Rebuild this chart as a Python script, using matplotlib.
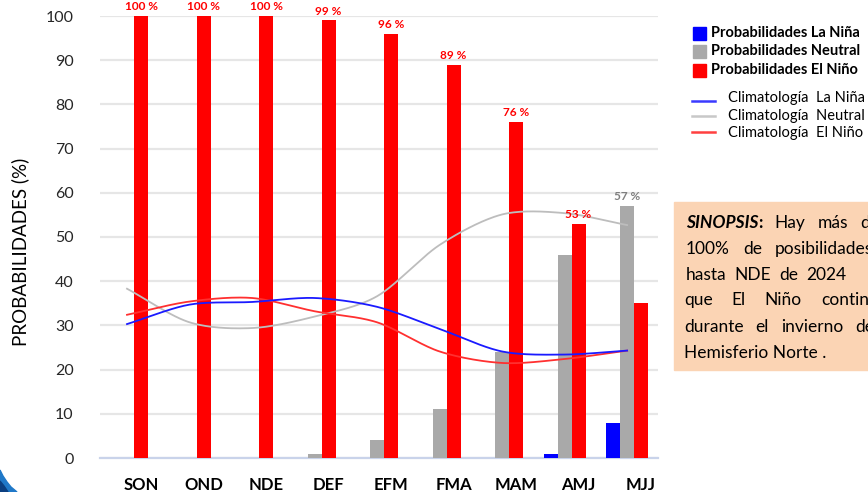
import numpy as np
import matplotlib
matplotlib.use("Agg")
import matplotlib.pyplot as plt
from matplotlib.patches import Rectangle, Polygon
from matplotlib.lines import Line2D
from matplotlib.transforms import Affine2D

plt.rcParams['font.family'] = ['Lato', 'DejaVu Sans']

# ---- data ----
seasons = ["SON", "OND", "NDE", "DEF", "EFM", "FMA", "MAM", "AMJ", "MJJ"]
prob_nina = [0, 0, 0, 0, 0, 0, 0, 1, 8]
prob_neutral = [0, 0, 0, 1, 4, 11, 24, 46, 57]
prob_nino = [100, 100, 100, 99, 96, 89, 76, 53, 35]
clim_nina = [30.3, 34.7, 35.3, 36.2, 34.2, 29.2, 24.1, 23.4, 24.3]
clim_neutral = [38.3, 30.7, 29.4, 32.0, 36.6, 48.2, 55.1, 55.4, 52.7]
clim_nino = [32.4, 35.4, 36.2, 33.2, 30.7, 24.1, 21.5, 22.4, 24.3]
yticks = list(range(0, 101, 10))
legend_prob = ["Probabilidades La Niña", "Probabilidades Neutral", "Probabilidades El Niño"]
legend_clim = ["Climatología  La Niña", "Climatología  Neutral", "Climatología  El Niño"]
sinopsis_lines = [
    ["SINOPSIS:", "Hay", "más", "de"],
    ["100%", "de", "posibilidades"],
    ["hasta", "NDE", "de", "2024"],
    ["que", "El", "Niño", "continúe"],
    ["durante", "el", "invierno", "del"],
    ["Hemisferio Norte ."],
]
# layout of the justified text: start x, word gap (pixels), line y
sinopsis_x0 = [686, 686, 686, 684, 684, 684]
sinopsis_gap = [12, 13, 8, 19, 12, 0]
sinopsis_y = [223, 249, 275, 300, 327, 353]

W, H = 868, 492
fig = plt.figure(figsize=(W / 100, H / 100), dpi=100)
fig.patch.set_facecolor("white")

def fx(x):
    return x / W

def fy(y):
    return 1 - y / H

ax = fig.add_axes([fx(100), fy(458), fx(658) - fx(100), fy(16) - fy(458)])

x = np.arange(len(seasons))
w = 0.224
RED, GRAY, BLUE = "#ff0000", "#a9a9a9", "#0000ff"

ax.bar(x - 2 * w, prob_nina, w, color=BLUE, zorder=3)
ax.bar(x - w, prob_neutral, w, color=GRAY, zorder=3)
ax.bar(x, prob_nino, w, color=RED, zorder=3)

# data labels
for xi, v in zip(x[:-1], prob_nino[:-1]):
    ax.text(xi, v + 1.3, f"{v} %", color=RED, fontsize=8.5, fontweight="bold",
            ha="center", va="baseline", zorder=5, clip_on=False)
ax.text(x[-1] - w, prob_neutral[-1] + 1.3, f"{prob_neutral[-1]} %", color="#7f7f7f",
        fontsize=8.5, fontweight="bold", ha="center", va="baseline", zorder=5, clip_on=False)

# smooth climatology curves (cubic Hermite through the data points)
def smooth(xs, ys, n=30):
    P = np.column_stack([np.asarray(xs, float), np.asarray(ys, float)])
    P = np.vstack([2 * P[0] - P[1], P, 2 * P[-1] - P[-2]])
    out = []
    for i in range(1, len(P) - 2):
        p0, p1, p2, p3 = P[i - 1], P[i], P[i + 1], P[i + 2]
        t = np.linspace(0, 1, n, endpoint=False)[:, None]
        m1 = (p2 - p0) / 2 * 0.9
        m2 = (p3 - p1) / 2 * 0.9
        h00 = 2 * t**3 - 3 * t**2 + 1
        h10 = t**3 - 2 * t**2 + t
        h01 = -2 * t**3 + 3 * t**2
        h11 = t**3 - t**2
        out.append(h00 * p1 + h10 * m1 + h01 * p2 + h11 * m2)
    out.append(P[-2][None, :])
    c = np.vstack(out)
    return c[:, 0], c[:, 1]

lx = x - w
for vals, col in [(clim_neutral, "#bdbdbd"), (clim_nino, "#ff3030"), (clim_nina, "#1a1aff")]:
    cx, cy = smooth(lx, vals)
    ax.plot(cx, cy, color=col, lw=1.3, zorder=4)

ax.set_xlim(-0.656, 8.27)
ax.set_ylim(0, 100)
ax.set_yticks(yticks)
ax.set_yticklabels([str(t) for t in yticks], fontsize=11.5, color="#262626")
ax.set_xticks(x)
ax.set_xticklabels(seasons, fontsize=12, fontweight="bold", color="black")
ax.tick_params(axis="y", length=0, pad=19)
ax.tick_params(axis="x", length=0, pad=14)
ax.yaxis.grid(True, color="#e6e6e6", lw=1.6, zorder=0)
ax.set_axisbelow(True)
for s in ["top", "right", "left"]:
    ax.spines[s].set_visible(False)
ax.spines["bottom"].set_color("#c9d3ea")
ax.spines["bottom"].set_linewidth(1.6)
ax.spines["bottom"].set_zorder(2)
ax.set_facecolor("white")

fig.text(fx(20), fy(252), "PROBABILIDADES (%)", rotation=90, fontsize=13.5,
         ha="center", va="center", color="black")

# legend (manual)
sq_y = [33, 51, 70]
for lab, col, yy in zip(legend_prob, [BLUE, GRAY, RED], sq_y):
    fig.patches.append(Rectangle((fx(693), fy(yy + 6.5)), fx(13), 13 / H, color=col,
                                 transform=fig.transFigure, figure=fig))
    fig.text(fx(711), fy(yy), lab, fontsize=10.5, fontweight="bold", ha="left", va="center")
ln_y = [101, 116, 132]
txt_y = [98, 116, 133]
for lab, col, yy, ty in zip(legend_clim, ["#3a3aff", "#c8c8c8", "#ff4040"], ln_y, txt_y):
    fig.lines.append(Line2D([fx(692), fx(715)], [fy(yy), fy(yy)], color=col, lw=1.8,
                            transform=fig.transFigure, figure=fig))
    fig.text(fx(728), fy(ty), lab, fontsize=10.5, ha="left", va="center")

# sinopsis box
fig.patches.append(Rectangle((fx(674), fy(370)), fx(300), (370 - 202) / H, color="#fbd4b4",
                             transform=fig.transFigure, figure=fig, zorder=1))
renderer = fig.canvas.get_renderer()
FS = 12.5
for words, x0, gap, yy in zip(sinopsis_lines, sinopsis_x0, sinopsis_gap, sinopsis_y):
    cur = x0
    for wd in words:
        if wd.startswith("SINOPSIS"):
            t = fig.text(fx(cur), fy(yy), wd[:-1], fontsize=FS, ha="left", va="center",
                         fontweight="bold", fontstyle="italic", zorder=3)
            bb = t.get_window_extent(renderer)
            t2 = fig.text(bb.x1 / W, fy(yy), wd[-1], fontsize=FS, ha="left",
                          va="center", fontweight="bold", zorder=3)
            cur = t2.get_window_extent(renderer).x1 + gap
        else:
            t = fig.text(fx(cur), fy(yy), wd, fontsize=FS, ha="left", va="center", zorder=3)
            cur = t.get_window_extent(renderer).x1 + gap

# decorative corner shape (bottom-left)
tr = Affine2D().scale(1, -1).translate(0, H)
fig.patches.append(Polygon([(0, 470), (3, 476), (7, 482), (11, 487), (17, 492), (0, 492)],
                           closed=True, color="#1f78c8", transform=tr, figure=fig))
fig.patches.append(Polygon([(0, 481), (4, 486), (8, 492), (0, 492)],
                           closed=True, color="#0b3f80", transform=tr, figure=fig))

fig.savefig("out.png", dpi=100)
